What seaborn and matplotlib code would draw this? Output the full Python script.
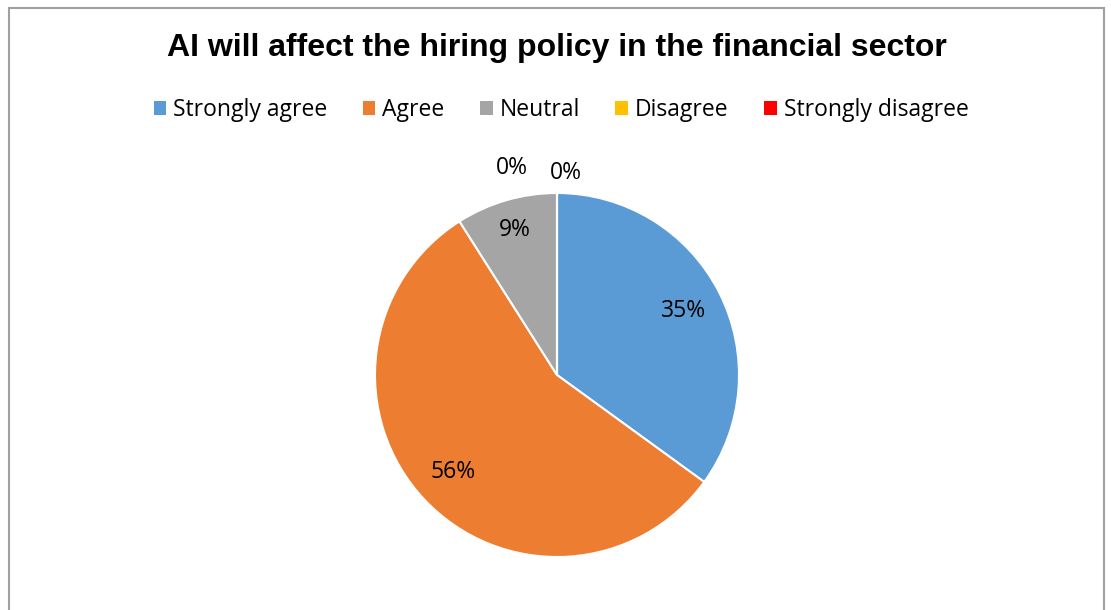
import matplotlib
matplotlib.use("Agg")
import matplotlib.pyplot as plt
from matplotlib.patches import Rectangle, Patch
import numpy as np
import seaborn as sns

# Survey responses
categories = ["Strongly agree", "Agree", "Neutral", "Disagree", "Strongly disagree"]
shares = [35, 56, 9, 0, 0]
colors = ["#5B9BD5", "#ED7D31", "#A5A5A5", "#FFC000", "#FF0000"]
title = "AI will affect the hiring policy in the financial sector"

sns.set_theme(style="white")
plt.rcParams["font.family"] = ["Open Sans", "DejaVu Sans"]
plt.rcParams["text.color"] = "black"
palette = sns.color_palette(colors)

W, H = 1111, 610
fig = plt.figure(figsize=(W / 100, H / 100), dpi=100)
fig.patch.set_facecolor("white")

# chart border (bottom edge runs off the canvas)
fig.patches.append(Rectangle((9 / W, -0.05), (1104 - 9) / W, (H - 8) / H + 0.05,
                             transform=fig.transFigure, fill=False,
                             edgecolor="#a0a0a0", linewidth=1.5))

cx, cy, R = 557, 375, 182
ax = fig.add_axes([(cx - R) / W, (H - cy - R) / H, 2 * R / W, 2 * R / H])
wedges, _ = ax.pie(shares, colors=palette, startangle=90, counterclock=False,
                   radius=1.0, wedgeprops=dict(edgecolor="white", linewidth=1.5))
ax.set_xlim(-1, 1)
ax.set_ylim(-1, 1)
ax.set_aspect("equal")
ax.axis("off")

# value labels inside non-zero slices, outside for zero slices
zero_offsets = [(-45, 25), (9, 20)]
zi = 0
for w, v in zip(wedges, shares):
    mid = np.deg2rad((w.theta1 + w.theta2) / 2)
    if v > 0:
        r = 0.83 if v < 20 else 0.78
        ax.text(r * np.cos(mid), r * np.sin(mid), f"{v}%", ha="center", va="center",
                fontsize=16.5, color="black")
    else:
        dx, dy = zero_offsets[zi]
        zi += 1
        ax.annotate(f"{v}%", xy=(np.cos(mid), np.sin(mid)), xytext=(dx, dy),
                    textcoords="offset pixels", ha="center", va="center",
                    fontsize=16.5, color="black", annotation_clip=False)

fig.text(557 / W, 1 - 48 / H, title, ha="center", va="center", fontsize=23,
         fontweight="bold", color="black", family=["Liberation Sans", "DejaVu Sans"])

handles = [Patch(facecolor=c, edgecolor="none") for c in palette]
leg = fig.legend(handles, categories, loc="center", bbox_to_anchor=(561 / W, 1 - 110 / H),
                 ncol=5, frameon=False, fontsize=16.5, handlelength=0.55, handleheight=0.55,
                 handletextpad=0.3, columnspacing=1.55)
for t in leg.get_texts():
    t.set_color("black")

fig.savefig("out.png", dpi=100, facecolor="white")
